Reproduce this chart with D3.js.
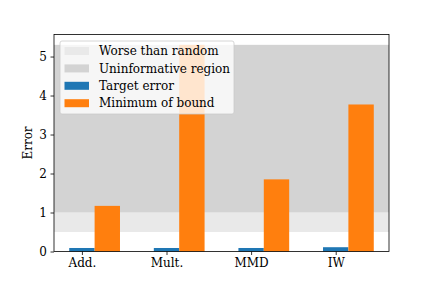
<!DOCTYPE html>
<html lang="en">
<head>
<meta charset="UTF-8">
<title>Error chart</title>
<script src="https://d3js.org/d3.v7.min.js"></script>
<style>
  body { margin: 0; padding: 0; background: #fff; }
  svg { display: block; font-family: "DejaVu Serif", serif; }
</style>
</head>
<body>
<div id="chart"></div>
<script>
// Data
const methods = ['Add.', 'Mult.', 'MMD', 'IW'];
const targetError = [0.09, 0.09, 0.09, 0.11];
const boundMin = [1.17, 5.3, 1.85, 3.77];
const worseBand = [0.5, 1.0];
const uninformBand = [1.0, 5.3];
const yTicks = [0, 1, 2, 3, 4, 5];

const width = 432, height = 288;
const margin = { top: 34.5, right: 43, bottom: 36.5, left: 54 };
const barW = 0.3;
const fontSize = 12;

const svg = d3.select('#chart').append('svg')
    .attr('width', width)
    .attr('height', height);

const x = d3.scaleLinear()
    .domain([-0.33, 3.63])
    .range([margin.left, width - margin.right]);

const y = d3.scaleLinear()
    .domain([0, 5.565])
    .range([height - margin.bottom, margin.top]);

// shaded regions
svg.append('rect')
    .attr('x', x.range()[0]).attr('width', x.range()[1] - x.range()[0])
    .attr('y', y(worseBand[1])).attr('height', y(worseBand[0]) - y(worseBand[1]))
    .attr('fill', '#e9e9e9');
svg.append('rect')
    .attr('x', x.range()[0]).attr('width', x.range()[1] - x.range()[0])
    .attr('y', y(uninformBand[1])).attr('height', y(uninformBand[0]) - y(uninformBand[1]))
    .attr('fill', '#d3d3d3');

// bars
svg.selectAll('rect.target')
    .data(methods)
    .join('rect')
    .attr('class', 'target')
    .attr('x', (d, i) => x(i - barW / 2))
    .attr('width', (d, i) => x(i + barW / 2) - x(i - barW / 2))
    .attr('y', (d, i) => y(targetError[i]))
    .attr('height', (d, i) => y(0) - y(targetError[i]))
    .attr('fill', '#1f77b4');

svg.selectAll('rect.bound')
    .data(methods)
    .join('rect')
    .attr('class', 'bound')
    .attr('x', (d, i) => x(i + barW / 2))
    .attr('width', (d, i) => x(i + 1.5 * barW) - x(i + barW / 2))
    .attr('y', (d, i) => y(boundMin[i]))
    .attr('height', (d, i) => y(0) - y(boundMin[i]))
    .attr('fill', '#ff7f0e');

// axes
const xAxis = svg.append('g')
    .attr('transform', `translate(0,${height - margin.bottom})`)
    .call(d3.axisBottom(x).tickValues(d3.range(methods.length)).tickFormat(i => methods[i]).tickSizeInner(3.5).tickSizeOuter(0).tickPadding(3.5));

const yAxis = svg.append('g')
    .attr('transform', `translate(${margin.left},0)`)
    .call(d3.axisLeft(y).tickValues(yTicks).tickFormat(d3.format('d')).tickSizeInner(3.5).tickSizeOuter(0).tickPadding(3.5));

[xAxis, yAxis].forEach(g => {
    g.select('.domain').remove();
    g.selectAll('.tick line').attr('stroke', '#000').attr('stroke-width', 0.8);
    g.selectAll('.tick text').attr('font-family', '"DejaVu Serif", serif').attr('font-size', fontSize).attr('fill', '#000');
});

// spines
svg.append('rect')
    .attr('x', margin.left).attr('y', margin.top)
    .attr('width', width - margin.left - margin.right)
    .attr('height', height - margin.top - margin.bottom)
    .attr('fill', 'none').attr('stroke', '#000').attr('stroke-width', 0.8);

svg.append('text')
    .attr('transform', `translate(32,${(margin.top + height - margin.bottom) / 2}) rotate(-90)`)
    .attr('text-anchor', 'middle')
    .attr('font-size', fontSize)
    .text('Error');

// legend
const legendItems = [
    { label: 'Worse than random', color: '#e9e9e9' },
    { label: 'Uninformative region', color: '#d3d3d3' },
    { label: 'Target error', color: '#1f77b4' },
    { label: 'Minimum of bound', color: '#ff7f0e' }
];
const lg = svg.append('g').attr('transform', 'translate(60,41)');
lg.append('rect')
    .attr('width', 174).attr('height', 73)
    .attr('rx', 2).attr('ry', 2)
    .attr('fill', 'rgba(255,255,255,0.8)')
    .attr('stroke', '#cccccc').attr('stroke-width', 0.8);
const rows = lg.selectAll('g.item')
    .data(legendItems)
    .join('g')
    .attr('class', 'item')
    .attr('transform', (d, i) => `translate(0,${10 + i * 17.4})`);
rows.append('rect')
    .attr('x', 4.5).attr('y', -4)
    .attr('width', 24.5).attr('height', 8)
    .attr('fill', d => d.color);
rows.append('text')
    .attr('x', 39)
    .attr('dy', '0.35em')
    .attr('font-size', fontSize)
    .text(d => d.label);
</script>
</body>
</html>
